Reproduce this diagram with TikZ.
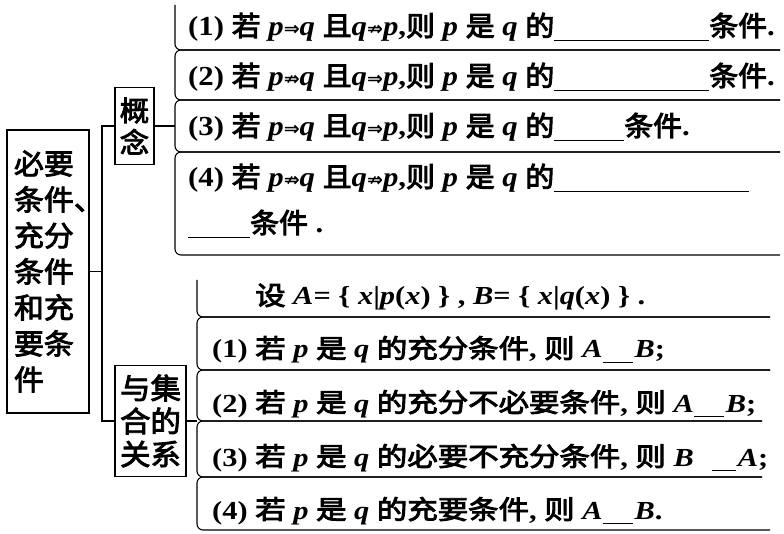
\documentclass[tikz,border=0pt]{standalone}
\usepackage{fontspec}
\setmainfont{Liberation Serif}
\newfontfamily\latA{Liberation Serif}[FakeStretch=1.12]
\newfontfamily\latB{Liberation Serif}[FakeStretch=1.17]
\newfontfamily\cjkA{Noto Sans CJK SC}[FakeStretch=1.05, FakeBold=3.5]
\newfontfamily\cjkB{Noto Sans CJK SC}[FakeStretch=1.17, FakeBold=3.5]
\newfontfamily\cjkM{Noto Sans CJK SC}[FakeStretch=1.05, FakeBold=3]
\newfontfamily\arrf{DejaVu Sans}
\newcommand\zhfont{\cjkA}
\newcommand\zh[1]{{\zhfont\mdseries #1}}
\newcommand\vv[1]{{\itshape #1}}
\newcommand\impl{{\arrf\bfseries\fontsize{19}{19}\selectfont ⇒}}
\newcommand\nimpl{{\arrf\bfseries\fontsize{19}{19}\selectfont ⇏}}
\newcommand\blank[1]{\rule[-5pt]{#1}{1.3pt}}
\tikzset{
  box/.style={draw, line width=1.1pt, inner sep=0pt, align=center},
  rowtop/.style={anchor=base west, inner sep=0pt,
    font=\latA\bfseries\fontsize{27.5}{30}\selectfont\renewcommand\zhfont{\cjkA}},
  rowbot/.style={anchor=base west, inner sep=0pt,
    font=\latB\bfseries\fontsize{26}{30}\selectfont\renewcommand\zhfont{\cjkB}},
  ln/.style={line width=1.1pt},
  rc/.style={ln, rounded corners=6pt}
}
\begin{document}
\begin{tikzpicture}[x=1pt,y=-1pt]
\useasboundingbox (0,0) rectangle (784,534);
% main box
\node[box, minimum width=82pt, minimum height=283pt, text width=68pt, align=left,
      font=\cjkM\fontsize{28.5}{36}\selectfont] (main) at (48,271.5)
  {必要\\条件、\\充分\\条件\\和充\\要条\\件};
\node[box, minimum width=39pt, minimum height=77pt,
      font=\cjkM\fontsize{28}{32}\selectfont] (gn) at (134.5,126) {概\\念};
\node[box, minimum width=71pt, minimum height=111pt,
      font=\cjkM\fontsize{29}{33}\selectfont] (rel) at (150.5,421) {与集\\合的\\关系};
\coordinate (busx) at (102,0);
\coordinate (tv) at (175,0);
\coordinate (bv) at (197,0);
% connectors
\draw[ln] (main.east) -- (main.east -| busx);
\draw[ln] (gn.west) -- (gn.west -| busx) -- (rel.west -| busx) -- (rel.west);
\draw[ln] (gn.east) -- (gn.east -| tv);
\draw[ln] (rel.east) -- (rel.east -| bv);
% top rows
\draw[rc] (175,5) -- (175,50) -- (780,50);
\draw[rc] (780,50) -- (175,50) -- (175,100) -- (780,100);
\draw[rc] (780,100) -- (175,100) -- (175,152) -- (780,152);
\draw[rc] (780,152) -- (175,152) -- (175,255) -- (780,255);
% bottom rows
\draw[rc] (197,280) -- (197,317) -- (770,317);
\draw[rc] (770,317) -- (197,317) -- (197,370) -- (770,370);
\draw[rc] (770,370) -- (197,370) -- (197,421) -- (762,421);
\draw[rc] (762,421) -- (197,421) -- (197,477) -- (762,477);
\draw[rc] (762,477) -- (197,477) -- (197,530) -- (770,530);
% top texts
\node[rowtop] (t1) at (188,36) {(1) \zh{若} \vv{p}\impl\vv{q} \zh{且}\vv{q}\nimpl\vv{p},\zh{则} \vv{p} \zh{是} \vv{q} \zh{的}\blank{155pt}\zh{条件}.};
\node[rowtop] (t2) at (188,86) {(2) \zh{若} \vv{p}\nimpl\vv{q} \zh{且}\vv{q}\impl\vv{p},\zh{则} \vv{p} \zh{是} \vv{q} \zh{的}\blank{155pt}\zh{条件}.};
\node[rowtop] (t3) at (188,136) {(3) \zh{若} \vv{p}\impl\vv{q} \zh{且}\vv{q}\impl\vv{p},\zh{则} \vv{p} \zh{是} \vv{q} \zh{的}\blank{70pt}\zh{条件}.};
\node[rowtop] (t4) at (188,187) {(4) \zh{若} \vv{p}\nimpl\vv{q} \zh{且}\vv{q}\nimpl\vv{p},\zh{则} \vv{p} \zh{是} \vv{q} \zh{的}\blank{195pt}};
\node[rowtop] (t4b) at (188,233) {\blank{62pt}\zh{条件} .};
% bottom texts
\node[rowbot] (s0) at (255,305) {\zh{设} \vv{A}= \{ \vv{x}|\vv{p}(\vv{x}) \} , \vv{B}= \{ \vv{x}|\vv{q}(\vv{x}) \} .};
\node[rowbot] (s1) at (212,358) {(1) \zh{若} \vv{p} \zh{是} \vv{q} \zh{的充分条件}, \zh{则} \vv{A}\blank{30pt}\kern2pt\vv{B};};
\node[rowbot] (s2) at (212,412) {(2) \zh{若} \vv{p} \zh{是} \vv{q} \zh{的充分不必要条件}, \zh{则} \vv{A}\blank{30pt}\kern2pt\vv{B};};
\node[rowbot] (s3) at (212,466) {(3) \zh{若} \vv{p} \zh{是} \vv{q} \zh{的必要不充分条件}, \zh{则} \vv{B}\kern18pt\blank{24pt}\kern2pt\vv{A};};
\node[rowbot] (s4) at (212,519) {(4) \zh{若} \vv{p} \zh{是} \vv{q} \zh{的充要条件}, \zh{则} \vv{A}\blank{30pt}\kern2pt\vv{B}.};
\end{tikzpicture}
\end{document}
